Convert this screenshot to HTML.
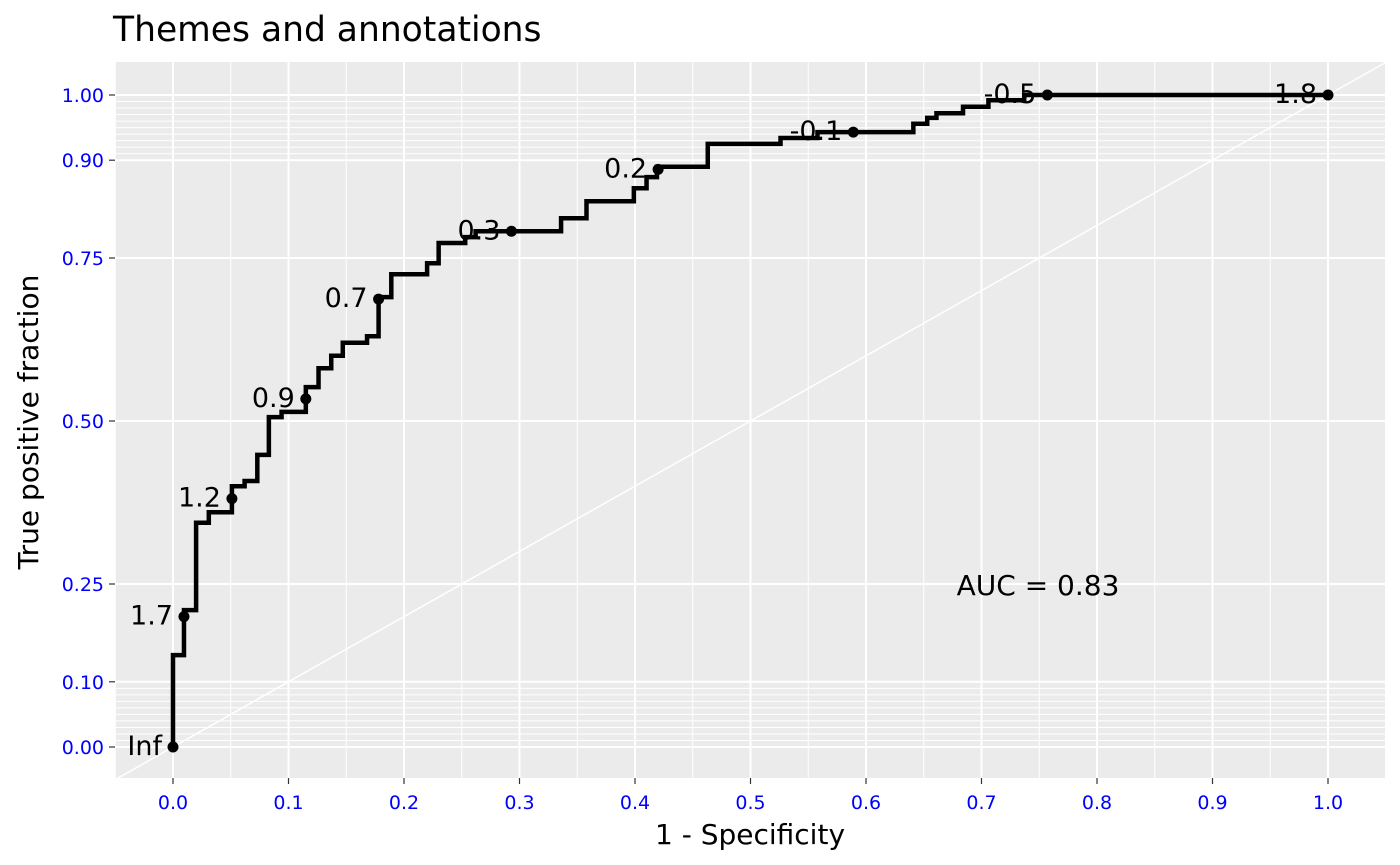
<!DOCTYPE html>
<html><head><meta charset="utf-8"><style>
html,body{margin:0;padding:0;background:#fff;}
svg{display:block;font-family:"DejaVu Sans","Liberation Sans",sans-serif;}
</style></head><body>
<svg id="chart" width="1400" height="865" viewBox="0 0 1400 865">
<text x="113" y="41" font-size="34.5" fill="#000">Themes and annotations</text>
<rect x="115" y="62" width="1270" height="716" fill="#EBEBEB"/>
<g id="grid"></g>
<g id="marks"></g>
<g id="axes"></g>
<text x="1038" y="595" font-size="28" text-anchor="middle" fill="#000">AUC = 0.83</text>
<text x="750" y="844" font-size="28" text-anchor="middle" fill="#000">1 - Specificity</text>
<text transform="translate(38,422) rotate(-90)" font-size="28" text-anchor="middle" fill="#000">True positive fraction</text>
</svg>
<script>
const fprSteps = [0,.0095,.020,.031,.051,.062,.073,.083,.094,.115,.126,.137,.147,.168,.178,.189,.220,.230,.253,.262,.336,.358,.399,.410,.419,.463,.526,.558,.641,.653,.661,.684,.706,.737,1];
const tprSteps = [.141,.210,.344,.360,.400,.408,.448,.506,.514,.552,.581,.600,.620,.630,.690,.725,.742,.773,.782,.791,.811,.837,.857,.874,.890,.925,.934,.943,.956,.965,.972,.982,.992,1,1];
const cutX = [0,.0095,.051,.115,.178,.293,.420,.589,.757,1];
const cutY = [0,.200,.381,.534,.687,.791,.886,.943,1,1];
const cutLabels = ["Inf","1.7","1.2","0.9","0.7","0.3","0.2","-0.1","-0.5","-1.8"];
const xTicks = [0,0.1,0.2,0.3,0.4,0.5,0.6,0.7,0.8,0.9,1.0];
const xTickLabels = ["0.0","0.1","0.2","0.3","0.4","0.5","0.6","0.7","0.8","0.9","1.0"];
const yTicks = [0,0.1,0.25,0.5,0.75,0.9,1];
const yTickLabels = ["0.00","0.10","0.25","0.50","0.75","0.90","1.00"];

const X0=115,X1=1385,Y0=62,Y1=778;
const sx = v => 173 + v*1155;
const sy = v => 747 - v*652;
const NS="http://www.w3.org/2000/svg";
function mk(tag, attrs, parent){const e=document.createElementNS(NS,tag);for(const k in attrs)e.setAttribute(k,attrs[k]);parent.appendChild(e);return e;}
const grid=document.getElementById('grid'), marks=document.getElementById('marks'), axes=document.getElementById('axes');

for(let i=-1;i<=10;i++){const v=i/10+0.05;const px=sx(v);if(px<X0||px>X1)continue;
 const l=mk('line',{x1:px,x2:px,y1:Y0,y2:Y1,stroke:'#fff','stroke-width':1},grid);
 
 }
for(let i=1;i<10;i++){[i/100,0.9+i/100].forEach(v=>{
 const l=mk('line',{x1:X0,x2:X1,y1:sy(v),y2:sy(v),stroke:'#fff','stroke-width':1},grid);
 
 });}
xTicks.forEach((v,i)=>{
 const l=mk('line',{x1:sx(v),x2:sx(v),y1:Y0,y2:Y1,stroke:'#fff','stroke-width':2},grid);
 
 
 const t=mk('line',{x1:sx(v),x2:sx(v),y1:Y1,y2:Y1+6,stroke:'#333','stroke-width':1.2},axes);
 
 
 const tx=mk('text',{x:sx(v),y:Y1+31,'font-size':19,fill:'#0000FF','text-anchor':'middle'},axes);tx.textContent=xTickLabels[i];
 
 
});
yTicks.forEach((v,i)=>{
 const l=mk('line',{x1:X0,x2:X1,y1:sy(v),y2:sy(v),stroke:'#fff','stroke-width':2},grid);
 
 
 const t=mk('line',{x1:X0-6,x2:X0,y1:sy(v),y2:sy(v),stroke:'#333','stroke-width':1.2},axes);
 
 
 const tx=mk('text',{x:X0-11,y:sy(v)+7,'font-size':19,fill:'#0000FF','text-anchor':'end'},axes);tx.textContent=yTickLabels[i];
 
 
});
const dl=mk('line',{x1:sx(-0.05),y1:sy(-0.05),x2:sx(1.05),y2:sy(1.05),stroke:'#fff','stroke-width':1.5},grid);


grid.setAttribute('clip-path','url(#clipP)');
const defs=mk('defs',{},document.getElementById('chart'));
const cp=mk('clipPath',{id:'clipP'},defs);mk('rect',{x:X0,y:Y0,width:X1-X0,height:Y1-Y0},cp);

const labG=mk('g',{},marks);


cutX.forEach((v,i)=>{
 const t=mk('text',{x:sx(v)-11,y:sy(cutY[i])+8,'font-size':27,fill:'#000','text-anchor':'end'},labG);t.textContent=cutLabels[i];
 
 
});
let d=`M${sx(0)},${sy(0)}`;let prevY=0;
fprSteps.forEach((f,i)=>{d+=` L${sx(f)},${sy(prevY)} L${sx(f)},${sy(tprSteps[i])}`;prevY=tprSteps[i];});
const path=mk('path',{d:d,fill:'none',stroke:'#000','stroke-width':4.5,'stroke-linejoin':'miter'},marks);


cutX.forEach((v,i)=>{
 const c=mk('circle',{cx:sx(v),cy:sy(cutY[i]),r:5.5,fill:'#000'},marks);
 
 
});
</script>
</body></html>
